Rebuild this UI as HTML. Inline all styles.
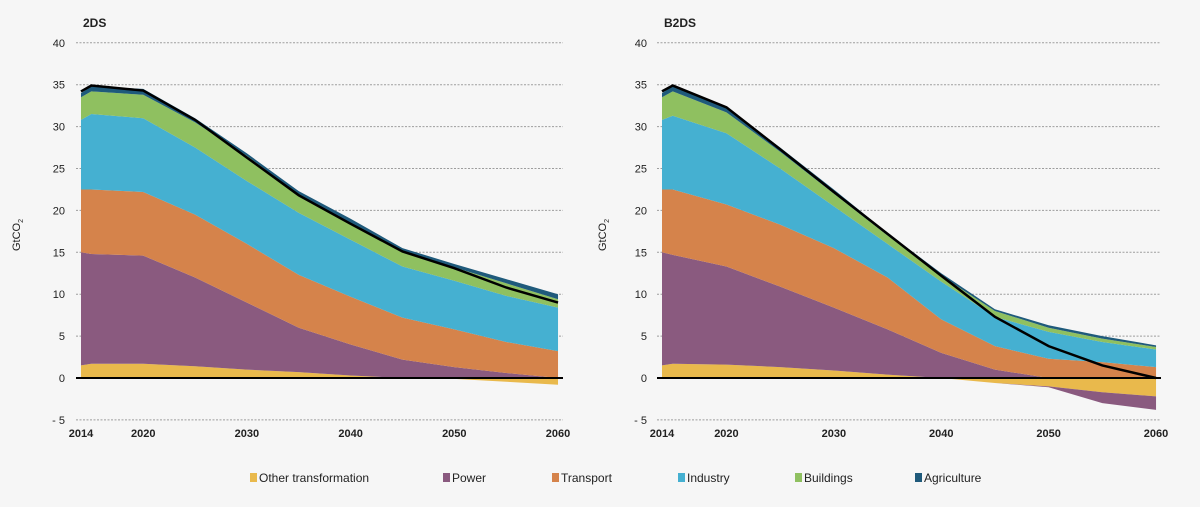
<!DOCTYPE html>
<html><head><meta charset="utf-8">
<style>
html,body{margin:0;padding:0;background:#f6f6f6;}
svg{display:block;font-family:"Liberation Sans",sans-serif;}
</style></head>
<body>
<svg id="s" width="1200" height="507" viewBox="0 0 1200 507" xmlns="http://www.w3.org/2000/svg">
<rect width="1200" height="507" fill="#f6f6f6"/>
</svg>
<script>
const NS="http://www.w3.org/2000/svg";
const svg=document.getElementById('s');
function el(t,a,txt){const e=document.createElementNS(NS,t);for(const k in a)e.setAttribute(k,a[k]);if(txt!==undefined)e.textContent=txt;svg.appendChild(e);return e;}
const yrs=[2014,2015,2020,2025,2030,2035,2040,2045,2050,2055,2060];
const Y=v=>378-8.38*v;
const C={other:"#e9b94c",power:"#8a5a7f",transport:"#d5834b",industry:"#45b0d1",buildings:"#8fc060",agri:"#1f5a7b"};
function chart(o){
  const X=y=>o.x0+(y-2014)*o.k;
  // gridlines
  for(let v=-5;v<=40;v+=5){
    if(v!==0) el('line',{x1:o.g0,x2:o.g1,y1:Y(v),y2:Y(v),stroke:"#888","stroke-width":1,"stroke-dasharray":"2,1.5",opacity:0.8});
    el('text',{x:o.lx,y:Y(v)+4,"text-anchor":"end","font-size":11,fill:"#222"},v===-5?"- 5":String(v));
  }
  function band(lo,hi,col){
    let d="M"+yrs.map((y,i)=>X(y)+","+Y(hi[i])).join(" L");
    for(let i=yrs.length-1;i>=0;i--)d+=" L"+X(yrs[i])+","+Y(lo[i]);
    el('path',{d:d+"Z",fill:col});
  }
  const z=yrs.map(()=>0);
  band(o.otherLo,o.otherHi,C.other);
  band(o.powLo,o.power,C.power);
  if(o.powNegLo) band(o.powNegLo,o.otherLo,C.power);
  band(o.power,o.transport,C.transport);
  band(o.transport,o.industry,C.industry);
  band(o.industry,o.buildings,C.buildings);
  band(o.buildings,o.agri,C.agri);
  el('line',{x1:o.g0,x2:o.g1,y1:Y(0),y2:Y(0),stroke:"#000","stroke-width":2});
  el('polyline',{points:yrs.map((y,i)=>X(y)+","+Y(o.line[i])).join(" "),fill:"none",stroke:"#000","stroke-width":2.5});
  [2014,2020,2030,2040,2050,2060].forEach(y=>el('text',{x:X(y),y:437,"text-anchor":"middle","font-size":11,"font-weight":"bold",fill:"#222"},String(y)));
  el('text',{x:o.x0+2,y:27,"font-size":12,"font-weight":"bold",fill:"#222"},o.title);
  const t=el('text',{x:0,y:0,"font-size":11,fill:"#222",transform:`translate(${o.ax},235) rotate(-90)`,"text-anchor":"middle"},"GtCO");
  const s=document.createElementNS(NS,'tspan');s.setAttribute('font-size',7);s.setAttribute('dy',3);s.textContent="2";t.appendChild(s);
}
chart({x0:81,k:10.37,g0:76,g1:563,lx:65,ax:20,title:"2DS",
 otherLo:[0,0,0,0,0,0,0,0,-0.1,-0.45,-0.8],
 otherHi:[1.5,1.7,1.7,1.4,1.0,0.7,0.3,0,0,0,0],
 powLo:[1.5,1.7,1.7,1.4,1.0,0.7,0.3,0,0,0,0],
 power:[15,14.8,14.6,12,9,6,4,2.2,1.3,0.6,0],
 transport:[22.5,22.5,22.2,19.5,16,12.3,9.7,7.2,5.8,4.3,3.2],
 industry:[30.8,31.5,31.0,27.5,23.5,19.7,16.5,13.3,11.6,9.8,8.4],
 buildings:[33.5,34.2,33.8,30.5,26.5,21.9,18.5,15.0,13.2,11.3,9.4],
 agri:[34,34.8,34.5,31,26.8,22.3,19,15.5,13.6,11.8,10.0],
 line:[34.2,34.9,34.3,30.8,26.3,21.8,18.4,15.1,13.1,10.8,9.0]});
chart({x0:662,k:10.74,g0:657,g1:1161,lx:647,ax:606,title:"B2DS",
 otherLo:[0,0,0,0,0,0,0,-0.6,-1.0,-1.7,-2.2],
 otherHi:[1.5,1.7,1.6,1.3,0.9,0.4,0,0,0,0,0],
 powLo:[1.5,1.7,1.6,1.3,0.9,0.4,0,0,0,0,0],
 powNegLo:[0,0,0,0,0,0,0,-0.6,-1.1,-3.0,-3.8],
 power:[15,14.7,13.3,10.9,8.4,5.8,3,1,0,0,0],
 transport:[22.5,22.5,20.7,18.3,15.5,12,7,3.8,2.3,1.9,1.3],
 industry:[30.8,31.3,29.2,25,20.5,16,11.5,7.3,5.5,4.3,3.4],
 buildings:[33.5,34.2,31.7,27,22,17,12.2,8,6,4.7,3.7],
 agri:[34,34.8,32.3,27.5,22.5,17.3,12.5,8.2,6.3,5,3.9],
 line:[34.2,34.9,32.3,27.3,22.2,17.2,12.2,7.3,3.8,1.5,0]});
const leg=[["Other transformation",250,C.other],["Power",443,C.power],["Transport",552,C.transport],["Industry",678,C.industry],["Buildings",795,C.buildings],["Agriculture",915,C.agri]];
leg.forEach(([n,x,c])=>{el('rect',{x:x,y:473,width:7,height:9,fill:c});el('text',{x:x+9,y:482,"font-size":12,fill:"#222"},n);});
</script>
</body></html>
